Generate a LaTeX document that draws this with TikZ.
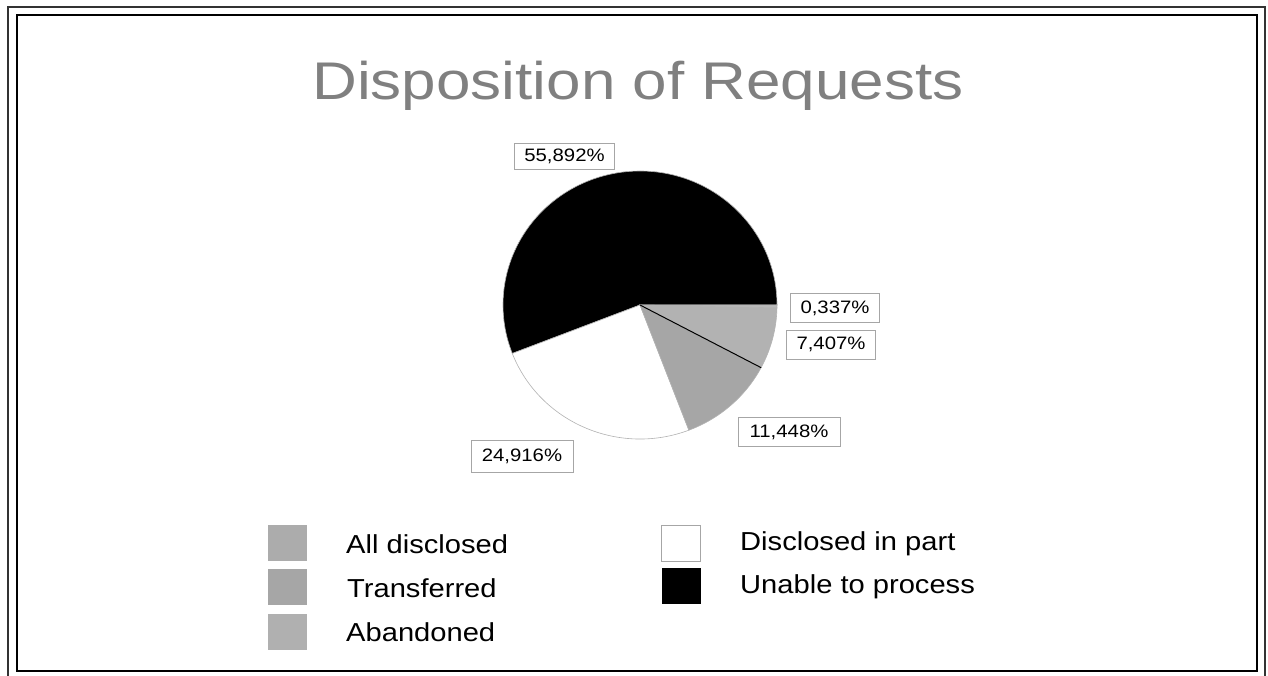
\documentclass[tikz,border=0pt]{standalone}
\usepackage{fontspec}
\setmainfont{Liberation Sans}
\usepackage{graphicx}
\newcommand\widen[2]{\scalebox{#1}[1]{#2}}
\begin{document}
\begin{tikzpicture}[x=1pt,y=-1pt,
  lbl/.style={draw=gray!70, line width=0.8pt, fill=white, font=\fontsize{18}{22}\selectfont, inner xsep=10pt, minimum height=29pt},
  leg/.style={font=\fontsize{26}{30}\selectfont, anchor=west, inner sep=0pt},
  sw/.style={minimum width=39pt, minimum height=36pt, inner sep=0pt},
  slice/.style={draw=gray!60, line width=0.6pt},
]
\useasboundingbox (0,0) rectangle (1268,676);
% frame
\draw[line width=2pt, black!80] (8,7) rectangle (1265,690);
\draw[line width=2.5pt] (17,15) rectangle (1257,671);
% title
\node[anchor=base, inner sep=0pt, text=black!50] (title) at (638,100)
  {\widen{1.17}{\fontsize{53}{60}\selectfont Disposition of Requests}};
% pie
\begin{scope}[shift={(640,305)}, yscale=-1]
  \filldraw[slice, fill=black] (0,0) -- (0:137 and 134) arc[start angle=0, end angle=201.21, x radius=137, y radius=134] -- cycle;
  \filldraw[slice, fill=white] (0,0) -- (201.21:137 and 134) arc[start angle=201.21, end angle=290.91, x radius=137, y radius=134] -- cycle;
  \filldraw[slice, fill=gray!70] (0,0) -- (290.91:137 and 134) arc[start angle=290.91, end angle=332.12, x radius=137, y radius=134] -- cycle;
  \filldraw[slice, fill=gray!60] (0,0) -- (332.12:137 and 134) arc[start angle=332.12, end angle=358.79, x radius=137, y radius=134] -- cycle;
  \filldraw[slice, fill=gray!55] (0,0) -- (358.79:137 and 134) arc[start angle=358.79, end angle=360, x radius=137, y radius=134] -- cycle;
  \draw[line width=1pt] (0,0) -- (332.12:137 and 134);
\end{scope}
% percentage labels
\node[lbl, minimum width=95pt, minimum height=26pt] (l1) at (564.5,156) {\widen{1.13}{55,892\%}};
\node[lbl, minimum width=84pt] (l2) at (835,308) {\widen{1.13}{0,337\%}};
\node[lbl, minimum width=88pt] (l3) at (831,344.5) {\widen{1.13}{7,407\%}};
\node[lbl, minimum width=102pt] (l4) at (789,432) {\widen{1.13}{11,448\%}};
\node[lbl, minimum width=102pt, minimum height=32pt] (l5) at (522,456) {\widen{1.13}{24,916\%}};
% legend
\node[sw, fill=gray!65] (s1) at (287,543) {};
\node[sw, fill=gray!70] (s2) at (287,587) {};
\node[sw, fill=gray!62] (s3) at (287,632) {};
\node[sw, draw=gray!70, line width=0.8pt, fill=white] (s4) at (681,543) {};
\node[sw, fill=black] (s5) at (681,586) {};
\node[leg] (t1) at (346,544) {\widen{1.12}{All disclosed}};
\node[leg] (t2) at (347,588) {\widen{1.12}{Transferred}};
\node[leg] (t3) at (346,632) {\widen{1.12}{Abandoned}};
\node[leg] (t4) at (740,544) {\widen{1.12}{Disclosed in part}};
\node[leg] (t5) at (740,587) {\widen{1.12}{Unable to process}};
\end{tikzpicture}
\end{document}
